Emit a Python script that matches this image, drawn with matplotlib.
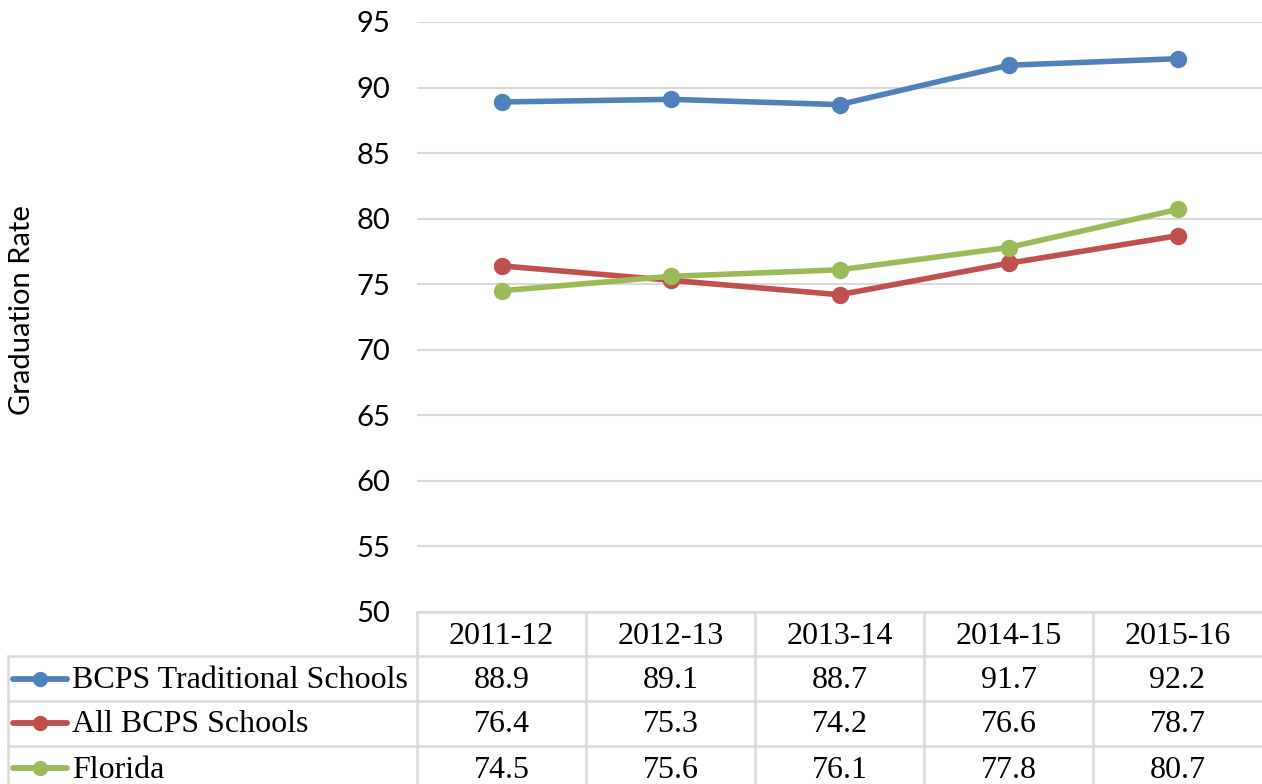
import matplotlib.pyplot as plt

# data
years = ['2011-12', '2012-13', '2013-14', '2014-15', '2015-16']
traditional = [88.9, 89.1, 88.7, 91.7, 92.2]
all_bcps = [76.4, 75.3, 74.2, 76.6, 78.7]
florida = [74.5, 75.6, 76.1, 77.8, 80.7]
series_names = ['BCPS Traditional Schools', 'All BCPS Schools', 'Florida']
colors = ['#4F81BD', '#C0504D', '#9BBB59']
yticks = [50, 55, 60, 65, 70, 75, 80, 85, 90, 95]

W, H = 1262, 784
fig = plt.figure(figsize=(W / 100, H / 100), dpi=100)

# plot area in pixel terms
left, right, top, bottom = 417, 1262, 22, 612
ax = fig.add_axes([left / W, 1 - bottom / H, (right - left) / W, (bottom - top) / H])

x = list(range(len(years)))
for vals, c in zip([traditional, all_bcps, florida], colors):
    ax.plot(x, vals, color=c, lw=4, marker='o', ms=11.5, zorder=3)

ax.set_xlim(-0.5, len(years) - 0.5)
ax.set_ylim(50, 95)
ax.set_yticks(yticks)
ax.set_xticks([])
ax.grid(axis='y', color='#D9D9D9', lw=1.5)
ax.set_axisbelow(True)
for s in ax.spines.values():
    s.set_visible(False)
ax.tick_params(axis='y', length=0, pad=19, labelsize=21)
for lab in ax.get_yticklabels():
    lab.set_family(['Lato', 'DejaVu Sans'])
fig.text(22 / W, 1 - 310 / H, 'Graduation Rate', rotation=90, ha='center', va='center',
         fontsize=21, family=['Lato', 'DejaVu Sans'])

# data table drawn on an overlay in pixel coordinates
tb = fig.add_axes([0, 0, 1, 1])
tb.set_xlim(0, W)
tb.set_ylim(H, 0)
tb.axis('off')

col_w = (right - left) / len(years)
row_y = [612, 656, 701, 746, 791]
gcol = '#D9D9D9'
serif = ['Liberation Serif', 'DejaVu Serif']

tb.plot([left, right], [row_y[0], row_y[0]], color=gcol, lw=1.8)
for y in row_y[1:4]:
    tb.plot([8, right], [y, y], color=gcol, lw=1.8)
tb.plot([8, 8], [row_y[1], H], color=gcol, lw=1.8)
for i in range(len(years)):
    xv = left + i * col_w
    tb.plot([xv, xv], [row_y[0], H], color=gcol, lw=1.8)

for i, yr in enumerate(years):
    tb.text(left + (i + 0.5) * col_w, 636, yr,
            ha='center', va='center', fontsize=23, family=serif)

row_centers = [679, 723, 768]
for name, vals, c, yc in zip(series_names, [traditional, all_bcps, florida], colors, row_centers):
    tb.plot([13, 67], [yc, yc], color=c, lw=4.2, solid_capstyle='round')
    tb.plot([40], [yc], color=c, marker='o', ms=10)
    tb.text(72, yc + 2, name, ha='left', va='center', fontsize=23, family=serif)
    for i, v in enumerate(vals):
        tb.text(left + (i + 0.5) * col_w, yc + 2, f'{v:.1f}',
                ha='center', va='center', fontsize=23, family=serif)

fig.savefig('out.png', dpi=100)
